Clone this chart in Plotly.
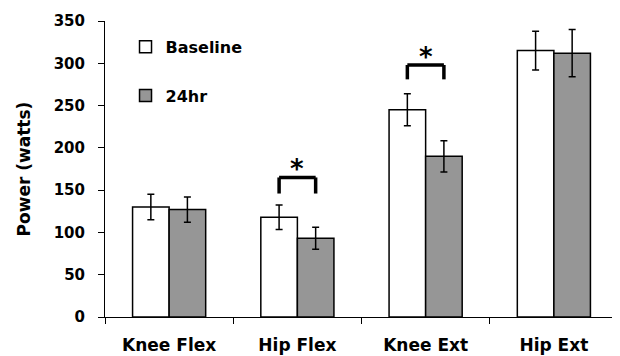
import plotly.graph_objects as go

categories = ["Knee Flex", "Hip Flex", "Knee Ext", "Hip Ext"]
baseline = [130, 118, 245, 315]
baseline_err = [15, 14.5, 19, 23]
hr24 = [127, 93, 190, 312]
hr24_err = [15, 13, 18.5, 28]
y_ticks = [0, 50, 100, 150, 200, 250, 300, 350]

# significance brackets: category index, bracket top, leg bottom
sig_index = [1, 2]
sig_top = [165, 298]
sig_leg = [146, 281]

FONT = "DejaVu Sans"
BARGAP = 0.43
half = (1 - BARGAP) / 4

fig = go.Figure()
fig.add_trace(go.Bar(
    name="Baseline", x=categories, y=baseline,
    marker=dict(color="white", line=dict(color="black", width=1.5)),
    error_y=dict(type="data", array=baseline_err, color="black", thickness=1.5, width=3.5),
    legendgroup="a",
))
fig.add_trace(go.Bar(
    name="24hr", x=categories, y=hr24,
    marker=dict(color="#969696", line=dict(color="black", width=1.5)),
    error_y=dict(type="data", array=hr24_err, color="black", thickness=1.5, width=3.5),
    legendgroup="b",
))

for i, top, leg in zip(sig_index, sig_top, sig_leg):
    x0, x1 = i - half, i + half
    for (xa, ya, xb, yb) in [(x0, leg, x0, top), (x0, top, x1, top), (x1, top, x1, leg)]:
        fig.add_shape(type="line", xref="x", yref="y", x0=xa, y0=ya, x1=xb, y1=yb,
                      line=dict(color="black", width=3.5))
    fig.add_annotation(x=i, y=top, xref="x", yref="y", text="<b>*</b>", showarrow=False,
                       yanchor="bottom", yshift=-9, font=dict(family=FONT, size=26, color="black"))

fig.update_layout(
    width=612, height=348,
    margin=dict(l=97, r=2, t=13, b=39, autoexpand=False),
    paper_bgcolor="white", plot_bgcolor="white",
    barmode="group", bargap=BARGAP, bargroupgap=0,
    font=dict(family=FONT, color="black"),
    showlegend=True,
    legend=dict(x=0.04, y=0.97, xanchor="left", yanchor="top",
                traceorder="grouped", tracegroupgap=25,
                font=dict(family=FONT, size=16, color="black", weight="bold"),
                bgcolor="rgba(0,0,0,0)"),
    xaxis=dict(
        type="category", range=[-0.5, 3.5], automargin=False,
        showline=True, linecolor="black", linewidth=1,
        ticks="outside", tickson="boundaries", ticklen=6, tickcolor="black",
        ticklabelstandoff=13,
        tickfont=dict(family=FONT, size=17, color="black", weight="bold"),
        showgrid=False, zeroline=False,
    ),
    yaxis=dict(
        range=[0, 350], tickvals=y_ticks, automargin=False,
        showline=True, linecolor="black", linewidth=1,
        ticks="outside", ticklen=6, tickcolor="black",
        ticklabelstandoff=10,
        tickfont=dict(family=FONT, size=15, color="black", weight="bold"),
        showgrid=False, zeroline=False,
        title=dict(text="Power (watts)", standoff=18,
                   font=dict(family=FONT, size=17, color="black", weight="bold")),
    ),
)

fig.write_html("out.html")
